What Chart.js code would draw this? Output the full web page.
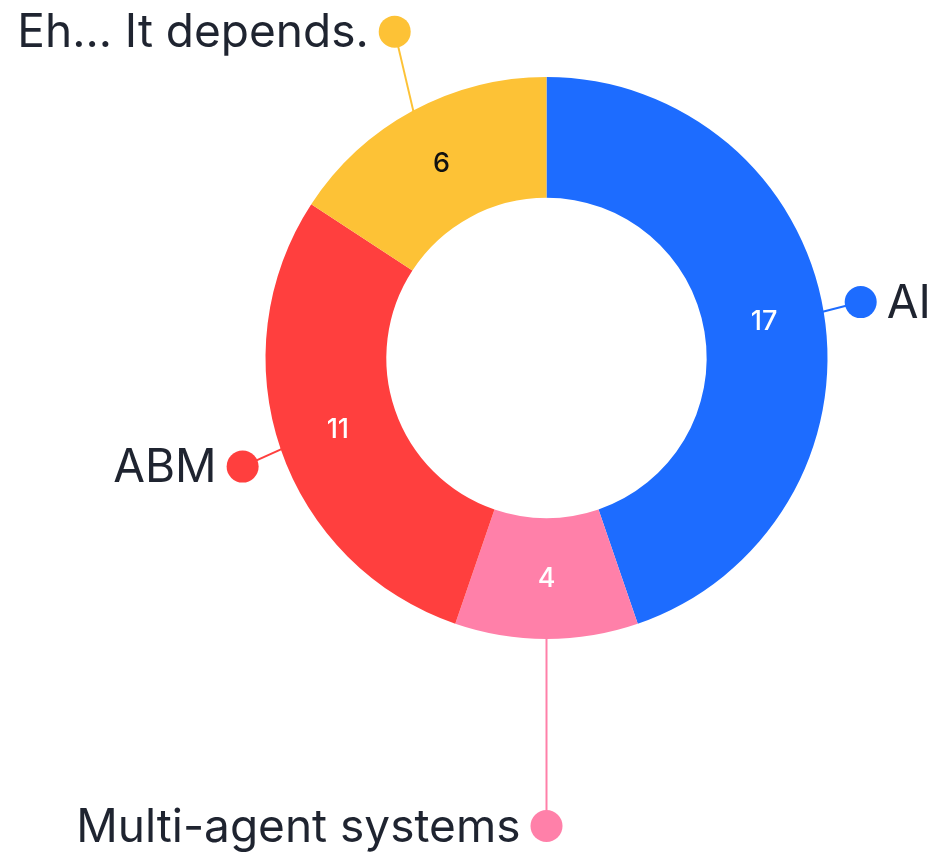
<!DOCTYPE html>
<html>
<head>
<meta charset="utf-8">
<script src="https://cdn.jsdelivr.net/npm/chart.js@4"></script>
<style>
  html, body { margin: 0; padding: 0; background: #ffffff; }
  #wrap { width: 937px; height: 858px; position: relative; }
</style>
</head>
<body>
<div id="wrap"><canvas id="grafico"></canvas></div>
<script>
// dados do gráfico
const categorias = ['AI', 'Multi-agent systems', 'ABM', 'Eh... It depends.'];
const valores = [17, 4, 11, 6];
const cores = ['#1d6cff', '#ff80a9', '#ff3f3e', '#fdc236'];
const coresValor = ['#ffffff', '#ffffff', '#ffffff', '#111111'];

const fonte = 'Inter, "Open Sans", sans-serif';

// plugin que desenha os valores e as legendas com linha e bolinha
const rotulos = {
  id: 'rotulos',
  afterDatasetsDraw(chart, args, opts) {
    const ctx = chart.ctx;
    const meta = chart.getDatasetMeta(0);
    meta.data.forEach((arc, i) => {
      // valor no meio do segmento
      const pos = arc.tooltipPosition();
      ctx.save();
      ctx.font = '500 27px ' + fonte;
      ctx.fillStyle = coresValor[i];
      ctx.textAlign = 'center';
      ctx.textBaseline = 'middle';
      ctx.fillText(String(valores[i]), pos.x, pos.y);
      ctx.restore();

      // ponto na borda externa, no ângulo do meio
      const p = arc.getProps(['startAngle', 'endAngle', 'outerRadius', 'x', 'y'], true);
      const meio = (p.startAngle + p.endAngle) / 2;
      const ax = p.x + Math.cos(meio) * (p.outerRadius - 2);
      const ay = p.y + Math.sin(meio) * (p.outerRadius - 2);
      const d = opts.deslocamentos[i];
      const bx = ax + d[0];
      const by = ay + d[1];

      ctx.save();
      ctx.strokeStyle = cores[i];
      ctx.lineWidth = 2;
      ctx.beginPath();
      ctx.moveTo(ax, ay);
      ctx.lineTo(bx, by);
      ctx.stroke();
      ctx.fillStyle = cores[i];
      ctx.beginPath();
      ctx.arc(bx, by, 16, 0, Math.PI * 2);
      ctx.fill();

      ctx.font = '400 46px ' + fonte;
      ctx.fillStyle = '#1f2430';
      ctx.textBaseline = 'middle';
      if (d[2] === 'direita') {
        ctx.textAlign = 'left';
        ctx.fillText(categorias[i], bx + 26, by + 2);
      } else {
        ctx.textAlign = 'right';
        ctx.fillText(categorias[i], bx - 26, by + 2);
      }
      ctx.restore();
    });
  }
};

const ctx = document.getElementById('grafico').getContext('2d');

const grafico = new Chart(ctx, {
  type: 'doughnut',
  data: {
    labels: categorias,
    datasets: [{
      data: valores,
      backgroundColor: cores,
      borderWidth: 0
    }]
  },
  options: {
    responsive: true,
    maintainAspectRatio: false,
    animation: false,
    cutout: '57%',
    layout: {
      padding: { left: 265, right: 109, top: 77, bottom: 219 }
    },
    plugins: {
      legend: { display: false },
      tooltip: { enabled: false },
      rotulos: {
        // deslocamento da bolinha em relação à borda do segmento
        deslocamentos: [
          [39, -10, 'direita'],
          [0, 189, 'esquerda'],
          [-40, 18, 'esquerda'],
          [-19, -81, 'esquerda']
        ]
      }
    }
  },
  plugins: [rotulos]
});
</script>
</body>
</html>
